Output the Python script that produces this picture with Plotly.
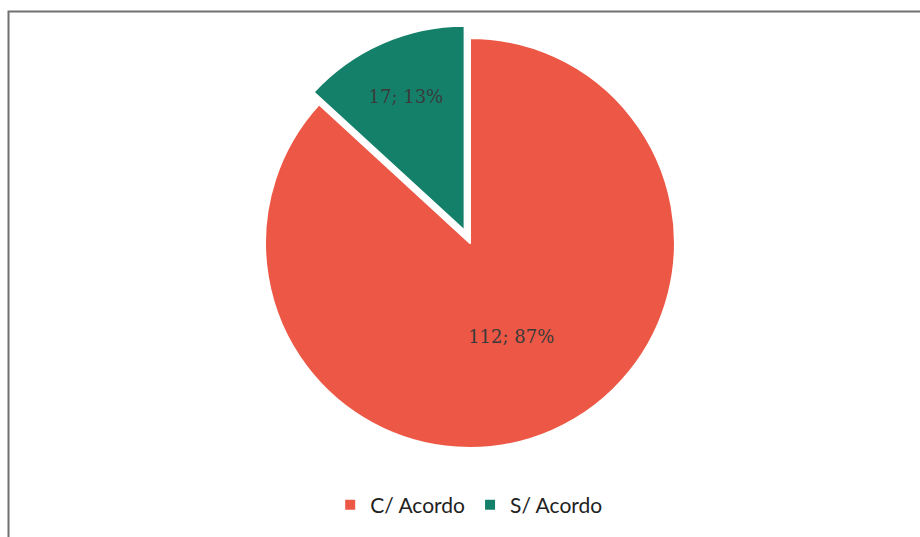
import plotly.graph_objects as go

# Agreement status counts
categories = ["C/ Acordo", "S/ Acordo"]
counts = [112, 17]
slice_colors = ["#EC5845", "#15806A"]
slice_pull = [0, 0.065]

W, H = 920, 537

fig = go.Figure(
    go.Pie(
        labels=categories,
        values=counts,
        sort=False,
        direction="clockwise",
        rotation=0,
        pull=slice_pull,
        marker=dict(colors=slice_colors, line=dict(color="white", width=2)),
        texttemplate="%{value}; %{percent:.0%}",
        textposition="inside",
        insidetextorientation="horizontal",
        textfont=dict(family="DejaVu Serif", size=18, color="#3a3a3a"),
        hoverinfo="label+value+percent",
        domain=dict(x=[0.2736, 0.7481], y=[0.141, 0.954]),
    )
)

# Chart frame
fig.add_shape(
    type="rect", xref="paper", yref="paper",
    x0=8.5 / W, x1=1.02, y0=-0.02, y1=1 - 11.5 / H,
    line=dict(color="#707070", width=2), fillcolor="rgba(0,0,0,0)",
)

fig.update_layout(
    width=W, height=H,
    margin=dict(l=0, r=0, t=0, b=0),
    paper_bgcolor="white",
    plot_bgcolor="white",
    showlegend=True,
    legend=dict(
        orientation="h", x=0.51, xanchor="center", y=1 - 505 / H, yanchor="middle",
        font=dict(family="Lato", size=21, color="#222222"),
        itemwidth=30,
    ),
)

fig.write_html("out.html")
